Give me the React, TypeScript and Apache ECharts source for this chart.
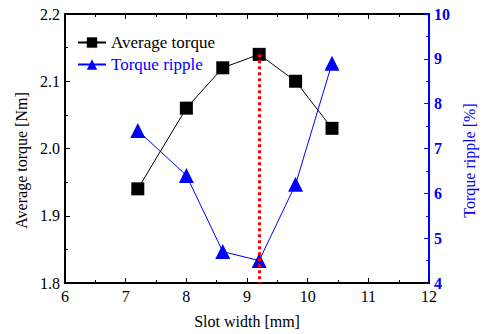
import React, { useEffect, useRef } from "react";
import * as echarts from "echarts";

const slotWidth = [7.2, 8.0, 8.6, 9.2, 9.8, 10.4];
const avgTorque = [1.94, 2.06, 2.12, 2.14, 2.10, 2.03];
const torqueRipple = [7.4, 6.4, 4.7, 4.5, 6.2, 8.9];
const optimumWidth = 9.2;
const optimumTorque = 2.14;

const FONT = "Liberation Serif";

export default function App() {
  const ref = useRef<HTMLDivElement>(null);
  useEffect(() => {
    const chart = echarts.init(ref.current!, null, { renderer: "svg" });
    const avgData = slotWidth.map((x, i) => [x, avgTorque[i]]);
    const ripData = slotWidth.map((x, i) => [x, torqueRipple[i]]);
    chart.setOption({
      animation: false,
      backgroundColor: "#fff",
      textStyle: { fontFamily: FONT },
      grid: { left: 65, right: 53, top: 14, bottom: 51 },
      legend: {
        left: 77,
        top: 34,
        padding: 0,
        orient: "vertical",
        itemWidth: 28,
        itemHeight: 13,
        itemGap: 5,
        textStyle: { fontFamily: FONT, fontSize: 17 },
        data: [
          { name: "Average torque", textStyle: { color: "#000" } },
          { name: "Torque ripple", textStyle: { color: "#0000ff" } },
        ],
      },
      xAxis: [
        {
          type: "value",
          min: 6,
          max: 12,
          interval: 1,
          position: "bottom",
          name: "Slot width [mm]",
          nameLocation: "middle",
          nameGap: 30,
          nameTextStyle: { fontFamily: FONT, fontSize: 16, color: "#000" },
          axisLine: { onZero: false, lineStyle: { color: "#000", width: 2 } },
          axisTick: { inside: true, length: 5, lineStyle: { color: "#000" } },
          minorTick: { show: true, splitNumber: 2, length: 3, lineStyle: { color: "#000" } },
          axisLabel: { fontFamily: FONT, fontSize: 16, color: "#000", margin: 5 },
          splitLine: { show: false },
        },
        {
          type: "value",
          min: 6,
          max: 12,
          interval: 1,
          position: "top",
          axisLine: { onZero: false, lineStyle: { color: "#000", width: 2 } },
          axisTick: { inside: true, length: 5, lineStyle: { color: "#000" } },
          minorTick: { show: true, splitNumber: 2, length: 3, lineStyle: { color: "#000" } },
          axisLabel: { show: false },
          splitLine: { show: false },
        },
      ],
      yAxis: [
        {
          type: "value",
          min: 1.8,
          max: 2.2,
          interval: 0.1,
          position: "left",
          name: "Average torque [Nm]",
          nameLocation: "middle",
          nameGap: 36,
          nameTextStyle: {
            fontFamily: FONT,
            fontSize: 16,
            color: "#000",
            padding: [0, 24, 0, 0],
          },
          axisLine: { onZero: false, lineStyle: { color: "#000", width: 2 } },
          axisTick: { inside: true, length: 5, lineStyle: { color: "#000" } },
          minorTick: { show: true, splitNumber: 2, length: 3, lineStyle: { color: "#000" } },
          axisLabel: {
            fontFamily: FONT,
            fontSize: 16,
            color: "#000",
            margin: 5,
            formatter: (v: number) => v.toFixed(1),
          },
          splitLine: { show: false },
        },
        {
          type: "value",
          min: 4,
          max: 10,
          interval: 1,
          position: "right",
          name: "Torque ripple [%]",
          nameLocation: "middle",
          nameGap: 27,
          nameRotate: 90,
          nameTextStyle: {
            fontFamily: FONT,
            fontSize: 16,
            color: "#0000ff",
            padding: [0, 24, 0, 0],
          },
          axisLine: { onZero: false, lineStyle: { color: "#0000ff", width: 2 } },
          axisTick: { inside: true, length: 5, lineStyle: { color: "#0000ff" } },
          minorTick: { show: true, splitNumber: 2, length: 3, lineStyle: { color: "#0000ff" } },
          axisLabel: {
            fontFamily: FONT,
            fontSize: 16,
            fontWeight: "bold",
            color: "#0000ff",
            margin: 5,
          },
          splitLine: { show: false },
        },
      ],
      series: [
        {
          name: "Average torque",
          type: "line",
          xAxisIndex: 0,
          yAxisIndex: 0,
          data: avgData,
          symbol: "rect",
          symbolSize: 13,
          itemStyle: { color: "#000" },
          lineStyle: { color: "#000", width: 1 },
          z: 3,
          markLine: {
            silent: true,
            symbol: "none",
            label: { show: false },
            lineStyle: { color: "#ff0000", width: 3, type: [3, 3] },
            data: [
              [
                { coord: [optimumWidth, optimumTorque] },
                { coord: [optimumWidth, 1.8] },
              ],
            ],
          },
        },
        {
          name: "Torque ripple",
          type: "line",
          xAxisIndex: 0,
          yAxisIndex: 1,
          data: ripData,
          symbol: "triangle",
          symbolSize: 15,
          itemStyle: { color: "#0000ff" },
          lineStyle: { color: "#0000ff", width: 1 },
          z: 2,
        },
      ],
    });
    return () => chart.dispose();
  }, []);
  return (
    <div
      ref={ref}
      style={{ position: "fixed", left: 0, top: 0, width: 485, height: 334 }}
    />
  );
}
